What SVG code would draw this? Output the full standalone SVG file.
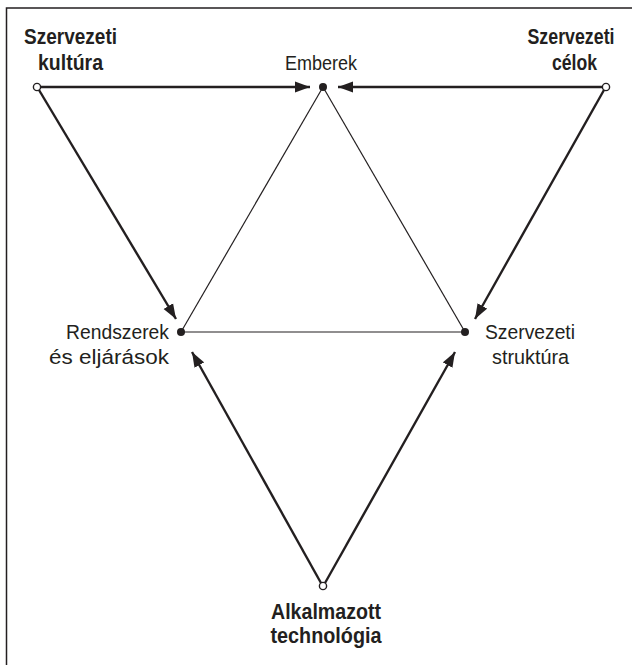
<svg xmlns="http://www.w3.org/2000/svg" width="632" height="665" viewBox="0 0 632 665">
<defs>
<style>
text{font-family:"Liberation Sans",Arial,sans-serif;fill:#231f20;font-size:20.5px}
.b{font-weight:bold;font-size:21.5px}
.thick{stroke:#231f20;stroke-width:2.4;fill:none}
.thin{stroke:#231f20;stroke-width:1.2;fill:none}
.open{fill:#fff;stroke:#231f20;stroke-width:1.4}
.dot{fill:#231f20}
</style>
<marker id="ah" markerUnits="userSpaceOnUse" markerWidth="16" markerHeight="12" refX="15" refY="6" orient="auto">
<path d="M0,0.5 L15,6 L0,11.5 z" fill="#231f20"/>
</marker>
</defs>
<rect width="632" height="665" fill="#fff"/>
<path d="M6.5,665 V8 H632" fill="none" stroke="#231f20" stroke-width="1.5"/>
<g id="connectors">
<line class="thin" x1="323" y1="87" x2="181" y2="332"/>
<line class="thin" x1="323" y1="87" x2="465" y2="332"/>
<line class="thin" x1="181" y1="332" x2="465" y2="332"/>
<line class="thick" x1="40" y1="87" x2="310" y2="87" marker-end="url(#ah)"/>
<line class="thick" x1="603" y1="87" x2="338" y2="87" marker-end="url(#ah)"/>
<line class="thick" x1="39" y1="90" x2="176" y2="319" marker-end="url(#ah)"/>
<line class="thick" x1="604" y1="90" x2="475" y2="319" marker-end="url(#ah)"/>
<line class="thick" x1="321" y1="583" x2="192" y2="352" marker-end="url(#ah)"/>
<line class="thick" x1="325" y1="583" x2="455" y2="352" marker-end="url(#ah)"/>
</g>
<g id="szervezeti-kultura">
<circle class="open" cx="37" cy="87" r="3.6"/>
<text class="b" x="70.5" y="44" text-anchor="middle" textLength="93" lengthAdjust="spacingAndGlyphs">Szervezeti</text>
<text class="b" x="70.5" y="70" text-anchor="middle" textLength="65" lengthAdjust="spacingAndGlyphs">kultúra</text>
</g>
<g id="emberek">
<circle class="dot" cx="323" cy="87" r="4"/>
<text x="321" y="70" text-anchor="middle" textLength="72" lengthAdjust="spacingAndGlyphs">Emberek</text>
</g>
<g id="szervezeti-celok">
<circle class="open" cx="606" cy="87" r="3.6"/>
<text class="b" x="571" y="44" text-anchor="middle" textLength="87" lengthAdjust="spacingAndGlyphs">Szervezeti</text>
<text class="b" x="574.5" y="70" text-anchor="middle" textLength="45" lengthAdjust="spacingAndGlyphs">célok</text>
</g>
<g id="rendszerek">
<circle class="dot" cx="181" cy="332" r="4"/>
<text x="169" y="339" text-anchor="end" textLength="103" lengthAdjust="spacingAndGlyphs">Rendszerek</text>
<text x="169" y="364" text-anchor="end" textLength="120" lengthAdjust="spacingAndGlyphs">és eljárások</text>
</g>
<g id="szervezeti-struktura">
<circle class="dot" cx="465" cy="332" r="4"/>
<text x="485" y="339" textLength="90" lengthAdjust="spacingAndGlyphs">Szervezeti</text>
<text x="492" y="364" textLength="77" lengthAdjust="spacingAndGlyphs">struktúra</text>
</g>
<g id="alkalmazott-technologia">
<circle class="open" cx="323" cy="586" r="3.6"/>
<text class="b" x="326" y="619" text-anchor="middle" textLength="110" lengthAdjust="spacingAndGlyphs">Alkalmazott</text>
<text class="b" x="326" y="643" text-anchor="middle" textLength="111" lengthAdjust="spacingAndGlyphs">technológia</text>
</g>
</svg>
